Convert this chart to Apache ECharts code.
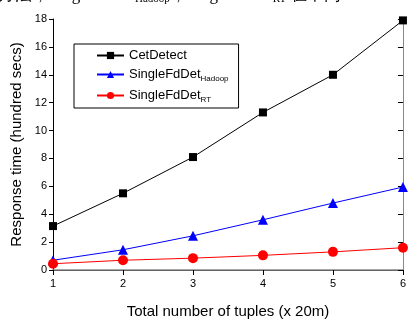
<!DOCTYPE html>
<html>
<head>
<meta charset="utf-8">
<script src="https://cdn.jsdelivr.net/npm/echarts@6/dist/echarts.min.js"></script>
<style>
  html, body { margin: 0; padding: 0; background: #fff; }
  #chart { width: 409px; height: 324px; }
</style>
</head>
<body>
<div id="chart"></div>
<script>
// Total number of tuples (x 20m)
const tupleCounts = [1, 2, 3, 4, 5, 6];
// Response time in hundreds of seconds
const cetDetect = [3.15, 5.5, 8.1, 11.3, 14.0, 17.9];
const singleFdDetHadoop = [0.7, 1.45, 2.45, 3.6, 4.8, 5.95];
const singleFdDetRT = [0.45, 0.7, 0.85, 1.05, 1.3, 1.6];
const seriesNames = ['CetDetect', 'SingleFdDetHadoop', 'SingleFdDetRT'];
const yTicks = [0, 2, 4, 6, 8, 10, 12, 14, 16, 18];

const pairs = vals => tupleCounts.map((x, i) => [x, vals[i]]);

const chart = echarts.init(document.getElementById('chart'), null, { renderer: 'canvas' });
const font = 'Liberation Sans, Arial, sans-serif';

const legendLabel = name => {
  if (name === 'SingleFdDetHadoop') return '{m|SingleFdDet}{s|Hadoop}';
  if (name === 'SingleFdDetRT') return '{m|SingleFdDet}{s|RT}';
  return '{m|' + name + '}';
};

chart.setOption({
  animation: false,
  backgroundColor: '#fff',
  grid: { left: 53, right: 2, top: 19, bottom: 46, containLabel: false },
  graphic: [{
    type: 'text',
    left: -2,
    top: -13,
    silent: true,
    style: {
      text: '方法，SingleFdDet{sub|Hadoop}，SingleFdDet{sub|RT} 在不同',
      font: '17px "Liberation Serif", serif',
      fill: '#000',
      rich: {
        sub: { font: '11px "Liberation Serif", serif', fill: '#000', padding: [8, 0, 0, 0] }
      }
    }
  }],
  legend: {
    left: 74,
    top: 44,
    orient: 'vertical',
    padding: [5, 10, 4, 22],
    itemGap: 6,
    itemWidth: 27,
    itemHeight: 9,
    borderColor: '#000',
    borderWidth: 1,
    data: seriesNames,
    formatter: legendLabel,
    textStyle: {
      rich: {
        m: { fontFamily: font, fontSize: 13, color: '#000' },
        s: { fontFamily: font, fontSize: 8, color: '#000', padding: [9, 0, 0, 0] }
      }
    }
  },
  xAxis: [{
    type: 'value',
    min: 1, max: 6, interval: 1,
    name: 'Total number of tuples (x 20m)',
    nameLocation: 'middle',
    nameGap: 34,
    nameTextStyle: { fontFamily: font, fontSize: 15, color: '#000' },
    axisLine: { lineStyle: { color: '#000', width: 1 } },
    axisTick: { show: true, length: 4, lineStyle: { color: '#000' } },
    axisLabel: { fontFamily: font, fontSize: 11, color: '#000', margin: 8 },
    splitLine: { show: false }
  }, {
    type: 'value',
    position: 'top',
    min: 1, max: 6, interval: 1,
    axisLine: { show: true, lineStyle: { color: '#888', width: 1.5 } },
    axisTick: { show: true, inside: true, length: 5, lineStyle: { color: '#000' } },
    axisLabel: { show: false },
    splitLine: { show: false }
  }],
  yAxis: [{
    type: 'value',
    min: 0, max: 18, interval: 2,
    name: 'Response time (hundred secs)',
    nameLocation: 'middle',
    nameGap: 29,
    nameTextStyle: { fontFamily: font, fontSize: 15, color: '#000' },
    axisLine: { show: true, lineStyle: { color: '#000', width: 1 } },
    axisTick: { show: true, length: 4, lineStyle: { color: '#000' } },
    axisLabel: {
      fontFamily: font, fontSize: 11, color: '#000', margin: 6,
      formatter: v => (yTicks.includes(v) ? String(v) : '')
    },
    splitLine: { show: false }
  }, {
    type: 'value',
    position: 'right',
    min: 0, max: 18, interval: 2,
    axisLine: { show: true, lineStyle: { color: '#888', width: 1 } },
    axisTick: { show: true, inside: true, length: 5, lineStyle: { color: '#000' } },
    axisLabel: { show: false },
    splitLine: { show: false }
  }],
  series: [{
    name: 'CetDetect',
    type: 'line',
    data: pairs(cetDetect),
    symbol: 'rect',
    symbolSize: 8,
    color: '#000',
    lineStyle: { color: '#000', width: 1 },
    itemStyle: { color: '#000' },
    clip: false
  }, {
    name: 'SingleFdDetHadoop',
    type: 'line',
    data: pairs(singleFdDetHadoop),
    symbol: 'triangle',
    symbolSize: 10,
    color: '#0000ff',
    lineStyle: { color: '#0000ff', width: 1 },
    itemStyle: { color: '#0000ff' },
    clip: false
  }, {
    name: 'SingleFdDetRT',
    type: 'line',
    data: pairs(singleFdDetRT),
    symbol: 'circle',
    symbolSize: 10,
    color: '#ff0000',
    lineStyle: { color: '#ff0000', width: 1 },
    itemStyle: { color: '#ff0000' },
    clip: false
  }]
});
</script>
</body>
</html>
